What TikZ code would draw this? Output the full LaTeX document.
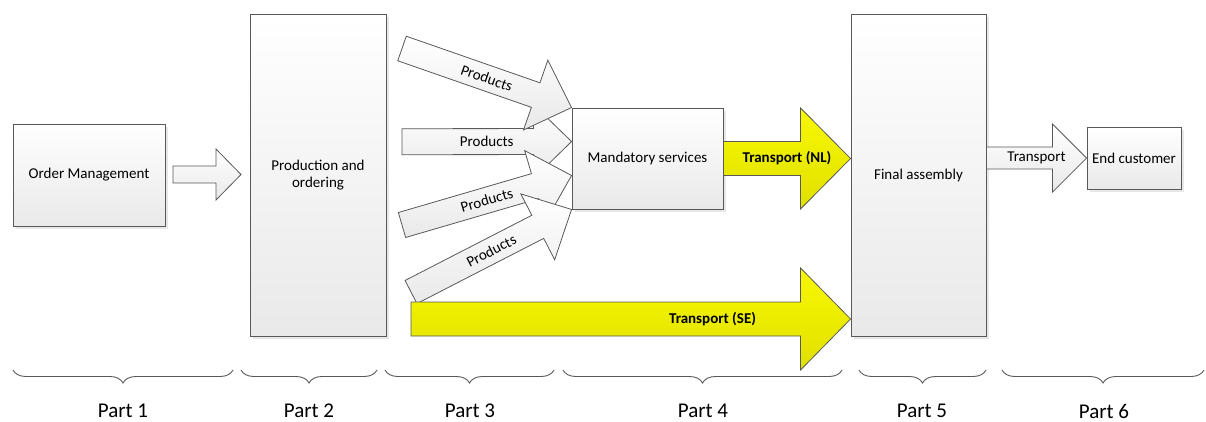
\documentclass[tikz,border=0pt]{standalone}
\usepackage{fontspec}
\setmainfont{Carlito}
\usetikzlibrary{calc,shadows,decorations.pathreplacing}
\definecolor{edge}{HTML}{595959}
\definecolor{boxbot}{HTML}{E9E9E9}
\definecolor{ylwtop}{HTML}{F8F800}
\definecolor{ylwbot}{HTML}{E0E000}
\definecolor{shd}{HTML}{B0B0B0}
\tikzset{
  box/.style={draw=edge, line width=0.9pt, top color=white, bottom color=boxbot,
    inner sep=0pt, align=center, font=\fontsize{15}{17}\selectfont,
    drop shadow={shadow xshift=2.5pt, shadow yshift=-2.5pt, opacity=0.3, fill=shd}},
  garrow/.style={draw=edge, line width=0.8pt, line join=miter, top color=white, bottom color=boxbot},
  yarrow/.style={draw=edge, line width=0.8pt, line join=miter, top color=ylwtop, bottom color=ylwbot},
  lbl/.style={font=\fontsize{15}{17}\selectfont, inner sep=0pt},
  blbl/.style={font=\fontsize{15}{17}\selectfont\bfseries, inner sep=0pt},
  partbrace/.style={draw=edge, line width=0.9pt, decorate,
    decoration={brace, mirror, amplitude=13pt}},
  partlbl/.style={font=\fontsize{21}{25}\selectfont, inner sep=0pt},
}
% block arrow: #1 style, #2 tail, #3 tip, #4 half shaft, #5 half head, #6 head length, #7 label, #8 label style, #9 pos
\newcommand{\barrow}[9]{%
  \coordinate (ba-b) at ($(#3)!#6!(#2)$);
  \path[#1] ($(#2)!#4!90:(#3)$) -- ($(ba-b)!#4!90:(#3)$) -- ($(ba-b)!#5!90:(#3)$)
    -- (#3) -- ($(ba-b)!#5!-90:(#3)$) -- ($(ba-b)!#4!-90:(#3)$) -- ($(#2)!#4!-90:(#3)$) -- cycle;
  \path (#2) -- (#3) node[pos=#9, sloped, #8] {#7};
}
\begin{document}
\begin{tikzpicture}[x=1pt, y=-1pt]
\useasboundingbox (0,0) rectangle (1206,421);

% boxes
\node[box, minimum width=152pt, minimum height=102pt] (om) at (89,175) {Order Management};
\node[box, minimum width=136pt, minimum height=322pt] (po) at (318,175) {Production and\\ordering};
\node[box, minimum width=151pt, minimum height=101pt] (ms) at (647.5,158.5) {Mandatory services};
\node[box, minimum width=135pt, minimum height=322pt] (fa) at (918.5,175) {Final assembly};
\node[box, minimum width=94pt, minimum height=62pt] (ec) at (1134,158) {End customer};

% coordinates
\coordinate (omT) at (173,174.5);
\coordinate (omH) at (241,174.5);
\coordinate (t1) at (402,48.5);
\coordinate (t2) at (402,141.7);
\coordinate (t3) at (402,225);
\coordinate (t4) at (411,292);
\coordinate (h1) at (ms.north west);
\coordinate (h2) at ($(ms.north west)!1/3!(ms.south west)$);
\coordinate (h3) at ($(ms.north west)!2/3!(ms.south west)$);
\coordinate (h4) at (ms.south west);
\coordinate (nlH) at (fa.west |- ms.east);
\coordinate (seT) at (411,319);
\coordinate (seH) at (fa.west |- seT);
\coordinate (trT) at (fa.east |- ec.west);

% arrows
\barrow{garrow}{omT}{omH}{8.5pt}{25.5pt}{25pt}{}{lbl}{0.5}
\barrow{garrow}{t2}{h2}{13pt}{37pt}{38pt}{Products}{lbl}{0.5}
\barrow{garrow}{t1}{h1}{13pt}{37pt}{38pt}{Products}{lbl}{0.5}
\barrow{garrow}{t3}{h3}{13pt}{37pt}{38pt}{Products}{lbl}{0.5}
\barrow{garrow}{t4}{h4}{13pt}{37pt}{38pt}{Products}{lbl}{0.5}
\barrow{yarrow}{seT}{seH}{17pt}{51pt}{50pt}{Transport (SE)}{blbl}{0.686}
\barrow{yarrow}{ms.east}{nlH}{17pt}{50.5pt}{50pt}{Transport (NL)}{blbl}{0.5}
\barrow{garrow}{trT}{ec.west}{11pt}{34pt}{34pt}{Transport}{lbl}{0.5}

% braces and part labels
\draw[partbrace] (13,370) -- (233,370);
\draw[partbrace] (241,370) -- (377,370);
\draw[partbrace] (385,370) -- (554,370);
\draw[partbrace] (563,370) -- (842,370);
\draw[partbrace] (859,370) -- (986,370);
\draw[partbrace] (1002,370) -- (1204,370);
\node[partlbl] (p1) at (123,411) {Part 1};
\node[partlbl] (p2) at (309,411) {Part 2};
\node[partlbl] (p3) at (470,411) {Part 3};
\node[partlbl] (p4) at (703,411) {Part 4};
\node[partlbl] (p5) at (922,411) {Part 5};
\node[partlbl] (p6) at (1104,411) {Part 6};
\end{tikzpicture}
\end{document}
